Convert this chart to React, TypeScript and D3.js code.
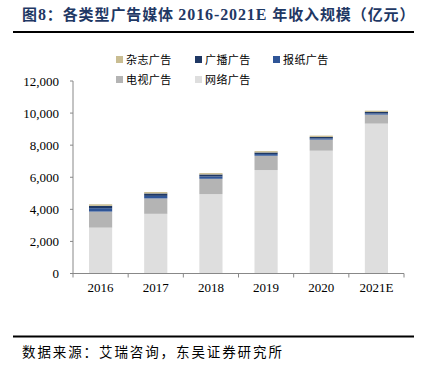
import React from "react";
import * as d3 from "d3";

const years = ["2016", "2017", "2018", "2019", "2020", "2021E"];
const network = [2860, 3720, 4950, 6450, 7656, 9344];
const tv = [1000, 960, 955, 890, 690, 560];
const newspaper = [210, 160, 145, 105, 80, 80];
const broadcast = [145, 150, 125, 100, 85, 85];
const magazine = [100, 90, 85, 85, 85, 80];
const yTicks = [0, 2000, 4000, 6000, 8000, 10000, 12000];

const seriesNames = ["网络广告", "电视广告", "报纸广告", "广播广告", "杂志广告"];
const seriesColors = ["#dedede", "#b4b4b4", "#2f5597", "#1f3864", "#c9bd92"];
const legendOrder = ["杂志广告", "广播广告", "报纸广告", "电视广告", "网络广告"];

const serif = "'Liberation Serif', 'DejaVu Serif', serif";
const cjk = "'Noto Sans CJK SC', sans-serif";

export default function App() {
  const W = 425, H = 371;
  const x0 = 73, x1 = 404, yTop = 81, yBot = 273.5;
  const x = d3.scaleBand<string>().domain(years).range([x0, x1]).paddingInner(0.58).paddingOuter(0.29);
  const y = d3.scaleLinear().domain([0, 12000]).range([yBot, yTop]);
  const rows = years.map((yr, i) => ({
    year: yr,
    "网络广告": network[i],
    "电视广告": tv[i],
    "报纸广告": newspaper[i],
    "广播广告": broadcast[i],
    "杂志广告": magazine[i],
  }));
  const stacked = d3.stack<any>().keys(seriesNames)(rows);
  const step = (x1 - x0) / years.length;
  const legendPos = [
    [116, 60], [195, 60], [273, 60],
    [116, 80], [195, 80],
  ];
  return (
    <svg width={W} height={H} style={{ position: "absolute", left: 0, top: 0 }}>
      <rect width={W} height={H} fill="#fff" />
      <text x={22} y={20} fontSize={15} fontWeight="bold" fill="#1f3864" fontFamily={`${serif}`} letterSpacing={0.9}>
        <tspan fontFamily={cjk}>图</tspan>
        <tspan fontSize={16}>8</tspan>
        <tspan fontFamily={cjk}>：各类型广告媒体 </tspan>
        <tspan fontSize={16}>2016-2021E </tspan>
        <tspan fontFamily={cjk}>年收入规模（亿元）</tspan>
      </text>
      <line x1={13} x2={414} y1={32} y2={32} stroke="#000" strokeWidth={2} />
      {legendOrder.map((name, i) => {
        const idx = seriesNames.indexOf(name);
        const [lx, ly] = legendPos[i];
        return (
          <g key={name}>
            <rect x={lx} y={ly - 4} width={7} height={7} fill={seriesColors[idx]} />
            <text x={lx + 10} y={ly + 3.5} fontSize={11} letterSpacing={0.4} fontFamily={cjk} fill="#000">{name}</text>
          </g>
        );
      })}
      {stacked.map((s, si) => (
        <g key={s.key} fill={seriesColors[si]}>
          {s.map((d, i) => (
            <rect key={i} x={x(years[i])} width={x.bandwidth()} y={y(d[1])} height={y(d[0]) - y(d[1])} />
          ))}
        </g>
      ))}
      <line x1={x0} x2={x0} y1={yTop} y2={yBot} stroke="#888" />
      {yTicks.map((t) => (
        <g key={t}>
          <line x1={x0 - 3} x2={x0} y1={y(t)} y2={y(t)} stroke="#888" />
          <text x={59} y={y(t) + 4.5} fontSize={13} textAnchor="end" fontFamily={serif}>{d3.format(",")(t)}</text>
        </g>
      ))}
      <line x1={x0} x2={x1} y1={yBot} y2={yBot} stroke="#888" />
      {d3.range(years.length + 1).map((i) => (
        <line key={i} x1={x0 + i * step} x2={x0 + i * step} y1={yBot} y2={yBot + 4} stroke="#888" />
      ))}
      {years.map((yr) => (
        <text key={yr} x={(x(yr) as number) + x.bandwidth() / 2} y={292} fontSize={13} textAnchor="middle" fontFamily={serif}>{yr}</text>
      ))}
      <line x1={13} x2={414} y1={336.5} y2={336.5} stroke="#000" strokeWidth={2} />
      <text x={22} y={357} fontSize={13.5} letterSpacing={1.9} fontFamily={cjk} fill="#000">数据来源：艾瑞咨询，东吴证券研究所</text>
    </svg>
  );
}
